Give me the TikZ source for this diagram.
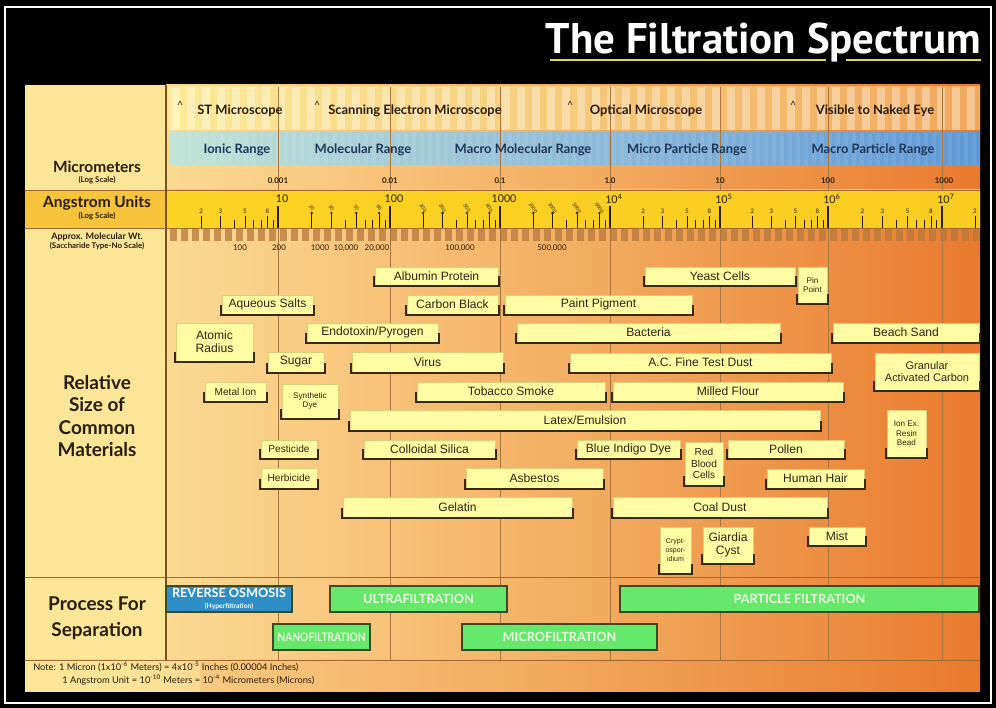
\documentclass[tikz,border=0pt]{standalone}
\usepackage{fontspec}
\setmainfont{Liberation Sans}
\newfontfamily\hdfont{Lato}
\newfontfamily\ttlfont{PT Sans}
\usepackage{xcolor}
\usepackage{tikz}
\usetikzlibrary{positioning}

\definecolor{spA}{HTML}{FBDA92}
\definecolor{spB}{HTML}{F3AE62}
\definecolor{spC}{HTML}{E97A2E}
\definecolor{lefty}{HTML}{FBE698}
\definecolor{msA}{HTML}{FCEB9A}
\definecolor{msC}{HTML}{F0A85C}
\definecolor{rgA}{HTML}{C2E3D6}
\definecolor{rgB}{HTML}{8EBBD8}
\definecolor{rgC}{HTML}{5E98D6}
\definecolor{rgink}{HTML}{1F3658}
\definecolor{angL}{HTML}{F5C43A}
\definecolor{angA}{HTML}{FBD324}
\definecolor{angB}{HTML}{F9CC22}
\definecolor{mwbar}{HTML}{B8793A}
\definecolor{boxfill}{HTML}{FFFDA4}
\definecolor{boxedge}{HTML}{E0CC7A}
\definecolor{brk}{HTML}{3C2810}
\definecolor{matink}{HTML}{2E2412}
\definecolor{gridc}{HTML}{A8753A}
\definecolor{rulec}{HTML}{A26A30}
\definecolor{divc}{HTML}{7A5220}
\definecolor{roblue}{HTML}{2E8FC8}
\definecolor{procgreen}{HTML}{66E86C}
\definecolor{procedge}{HTML}{3C4A28}
\definecolor{proctext}{HTML}{EAFBE0}
\definecolor{headink}{HTML}{2A1C0C}
\definecolor{uline}{HTML}{E0DC48}

\pgfdeclarehorizontalshading{spectrum}{100bp}{color(0bp)=(spA); color(25bp)=(spA); color(50bp)=(spB); color(75bp)=(spC); color(100bp)=(spC)}

\newcommand{\pxu}{0.025cm}
% material box with its size bracket
\newcommand{\matl}[7][]{%
  \node[matbox, #1, minimum width={(#4-#3)*\pxu}, minimum height={(#6-#5)*\pxu}] (#2) at ({(#3+#4)/2},{(#5+#6)/2}) {#7};
  \draw[bracket] ([shift={(-1,-8)}]#2.south west) -- ([shift={(-1,1)}]#2.south west) -- ([shift={(1,1)}]#2.south east) -- ([shift={(1,-8)}]#2.south east);
}
\newcommand{\proc}[7][]{%
  \node[procbox, #1, minimum width={(#4-#3)*\pxu}, minimum height={(#6-#5)*\pxu}] (#2) at ({(#3+#4)/2},{(#5+#6)/2}) {#7};
}

\begin{document}
\begin{tikzpicture}[x=0.025cm, y=-0.025cm,
    matbox/.style={fill=boxfill, draw=boxedge, line width=0.3pt, inner sep=0pt, align=center, text=matink, font=\fontsize{8.6}{9.4}\selectfont},
    smallmat/.style={font=\fontsize{5.8}{6.6}\selectfont},
    midmat/.style={font=\fontsize{7.2}{8}\selectfont},
    bracket/.style={draw=brk, line width=1.4pt, line cap=rect},
    procbox/.style={fill=procgreen, draw=procedge, line width=1.1pt, inner sep=0pt, align=center, text=proctext, font=\hdfont\bfseries\fontsize{9}{9.2}\selectfont},
    sidehead/.style={text=headink, align=center, inner sep=0pt, font=\hdfont\bfseries\fontsize{11}{12}\selectfont},
    sidesub/.style={text=headink, align=center, inner sep=0pt, font=\hdfont\bfseries\fontsize{5.6}{6.4}\selectfont},
    rowlab/.style={text=headink, inner sep=0pt, font=\hdfont\bfseries\fontsize{9.2}{10}\selectfont},
    umlab/.style={text=headink, inner sep=0pt, font=\hdfont\bfseries\fontsize{5.6}{6}\selectfont},
    anglab/.style={text=headink, inner sep=0pt, font=\hdfont\fontsize{7.6}{8}\selectfont},
    ticklab/.style={text=headink, inner sep=0pt, font=\hdfont\fontsize{4.4}{5}\selectfont},
    pinlab/.style={text=headink, inner sep=0pt, font=\hdfont\fontsize{3.4}{4}\selectfont},
    mwlab/.style={text=headink, inner sep=0pt, font=\hdfont\fontsize{5.6}{6}\selectfont},
    tick/.style={draw=headink, line width=0.5pt},
    majtick/.style={draw=headink, line width=1.1pt},
    gridln/.style={draw=gridc, line width=0.5pt},
    rule/.style={draw=rulec, line width=0.7pt}]
\useasboundingbox (0,0) rectangle (996,708);
\fill[black] (0,0) rectangle (996,708);
\draw[white, line width=1.2pt] (5,7) rectangle (991,703);

% Title
\node[anchor=base east, text=white, inner sep=0pt, font=\ttlfont\bfseries\fontsize{30.5}{32}\selectfont] (title) at (981,54) {The Filtration Spectrum};
\draw[uline, line width=1.6pt] (550,60) -- (826,60);
\draw[uline, line width=1.6pt] (846,60) -- (981,60);

% Panels
\fill[lefty] (25,85) rectangle (166,660);
\shade[shading=spectrum] (166,85) rectangle (980,660);
\shade[shading=spectrum] (25,660) rectangle (980,692);
\fill[lefty] (25,660) rectangle (120,692);
\shade[left color=lefty, right color=spA] (120,660) rectangle (200,692);

% Microscope row
\shade[left color=msA, right color=msC] (168,87) rectangle (980,130);
\foreach \x in {172,187,...,970} \fill[white, opacity=.35] (\x,87) rectangle ++(8,43);
\foreach \x in {180,317,570,793} \draw[headink, line width=0.4pt] (\x-2,105) -- (\x,101) -- (\x+2,105);

% Range band
\shade[left color=rgA, right color=rgC, middle color=rgB] (170,133) rectangle (980,165);
\foreach \x in {172,180,...,975} \fill[white, opacity=.08] (\x,133) rectangle ++(4,32);

% Angstrom row
\fill[angL] (25,190) rectangle (166,228);
\shade[left color=angA, right color=angB] (166,190) rectangle (980,228);

% Molecular weight bars
\foreach \x in {170,181,...,975} \fill[mwbar, opacity=.75] (\x,229) rectangle ++(7,12);

% Decade grid
\foreach \d in {278,390,500,610,720,828,942} {
  \draw[gridln] (\d,87) -- (\d,190);
  \draw[gridln] (\d,228) -- (\d,660);
}
\draw[rule] (25,190) -- (980,190);
\draw[rule] (25,228) -- (980,228);
\draw[rule] (25,577) -- (980,577);
\draw[rule] (25,660) -- (980,660);
\draw[divc, line width=1.6pt] (166,85) -- (166,660);

% Row headings
\node[sidehead] (micro) at (97,167) {Micrometers};
\node[sidesub] (microsub) at (97,180) {(Log Scale)};
\node[sidehead] (angs) at (97,203) {Angstrom Units};
\node[sidesub] (angsub) at (97,216) {(Log Scale)};
\node[sidesub, font=\hdfont\bfseries\fontsize{6.4}{7}\selectfont] (mw) at (97,237) {Approx. Molecular Wt.};
\node[sidesub] (mwsub) at (97,246) {(Saccharide Type-No Scale)};
\node[sidehead, font=\hdfont\bfseries\fontsize{13.5}{16}\selectfont] (relsize) at (97,416) {Relative\\Size of\\Common\\Materials};
\node[sidehead, font=\hdfont\bfseries\fontsize{13.5}{18.5}\selectfont] (process) at (97,618) {Process For\\Separation};

% Microscope and range labels
\node[rowlab] (stm) at (240,111) {ST Microscope};
\node[rowlab] (sem) at (415,111) {Scanning Electron Microscope};
\node[rowlab] (opt) at (646,111) {Optical Microscope};
\node[rowlab] (eye) at (875,111) {Visible to Naked Eye};
\node[rowlab, text=rgink] (ionic) at (237,150) {Ionic Range};
\node[rowlab, text=rgink] (molec) at (363,150) {Molecular Range};
\node[rowlab, text=rgink] (macmol) at (523,150) {Macro Molecular Range};
\node[rowlab, text=rgink] (micpart) at (687,150) {Micro Particle Range};
\node[rowlab, text=rgink] (macpart) at (873,150) {Macro Particle Range};

% Micrometer scale
\foreach \d/\l in {278/0.001, 390/0.01, 500/0.1, 610/1.0, 720/10, 828/100, 944/1000}
  \node[umlab] (um\d) at (\d,181) {\l};

% Angstrom scale
\foreach \d/\l in {278/10, 390/100, 500/1000, 610/10\textsuperscript{4}, 720/10\textsuperscript{5}, 828/10\textsuperscript{6}, 942/10\textsuperscript{7}} {
  \draw[majtick] (\d,206) -- (\d,228);
  \node[anglab] (ang\d) at (\d+4,199) {\l};
}
\foreach \a/\b in {168/278, 610/720, 720/828, 828/942} {
  \foreach \k in {2,3,5,8} {
    \pgfmathsetmacro\tx{\a+(\b-\a)*log10(\k)}
    \draw[tick] (\tx,216) -- (\tx,228);
    \node[ticklab] (tk\a\k) at (\tx,211) {\k};
  }
  \foreach \k in {4,6,7,9} {
    \pgfmathsetmacro\tx{\a+(\b-\a)*log10(\k)}
    \draw[tick] (\tx,220) -- (\tx,228);
  }
}
\foreach \a/\b/\sfx in {278/390/0, 390/500/00, 500/610/000} {
  \foreach \k in {2,3,5,8} {
    \pgfmathsetmacro\tx{\a+(\b-\a)*log10(\k)}
    \draw[tick] (\tx,214) -- (\tx,228);
    \fill[headink] (\tx,213) circle (1.3);
    \node[pinlab, rotate=-55] (tk\a\k) at (\tx,208) {\k\sfx};
  }
  \foreach \k in {4,6,7,9} {
    \pgfmathsetmacro\tx{\a+(\b-\a)*log10(\k)}
    \draw[tick] (\tx,220) -- (\tx,228);
  }
}
\draw[tick] (975,216) -- (975,228);
\node[ticklab] (tkend) at (975,211) {2};

% Molecular weight scale
\foreach \d/\l in {240/100, 279/200, 320/1000, 346/{10,000}, 377/{20,000}, 460/{100,000}, 552/{500,000}}
  \node[mwlab] (mw\d) at (\d,248) {\l};

% Common materials
\matl{albumin}{375}{498}{267}{285}{Albumin Protein}
\matl{yeast}{645}{795}{267}{285}{Yeast Cells}
\matl[smallmat]{pinpoint}{798}{827}{267}{303}{Pin\\Point}
\matl{aqsalts}{222}{313}{295}{314}{Aqueous Salts}
\matl{carbon}{407}{498}{295}{314}{Carbon Black}
\matl{paint}{505}{692}{295}{314}{Paint Pigment}
\matl{atomic}{176}{253}{323}{361}{Atomic\\Radius}
\matl{endotoxin}{307}{438}{323}{342}{Endotoxin/Pyrogen}
\matl{bacteria}{517}{780}{323}{342}{Bacteria}
\matl{beach}{833}{979}{323}{342}{Beach Sand}
\matl{sugar}{268}{324}{352}{372}{Sugar}
\matl{virus}{352}{503}{352}{372}{Virus}
\matl{acdust}{570}{831}{353}{372}{A.C. Fine Test Dust}
\matl[font=\fontsize{7.8}{8.6}\selectfont]{gac}{875}{979}{353}{390}{Granular\\Activated Carbon}
\matl[midmat]{metalion}{205}{266}{382}{401}{Metal Ion}
\matl[smallmat]{syndye}{282}{338}{384}{418}{Synthetic\\Dye}
\matl{tobacco}{417}{605}{382}{401}{Tobacco Smoke}
\matl{flour}{613}{843}{382}{401}{Milled Flour}
\matl{latex}{350}{820}{410}{430}{Latex/Emulsion}
\matl[smallmat]{ionex}{887}{926}{410}{457}{Ion Ex.\\Resin\\Bead}
\matl[midmat]{pesticide}{261}{317}{440}{458}{Pesticide}
\matl{silica}{364}{495}{440}{458}{Colloidal Silica}
\matl{indigo}{577}{680}{440}{458}{Blue Indigo Dye}
\matl[midmat]{rbc}{685}{723}{442}{485}{Red\\Blood\\Cells}
\matl{pollen}{728}{844}{440}{458}{Pollen}
\matl[midmat]{herbicide}{261}{317}{468}{488}{Herbicide}
\matl{asbestos}{466}{603}{468}{488}{Asbestos}
\matl{hair}{767}{864}{469}{488}{Human Hair}
\matl{gelatin}{343}{572}{497}{517}{Gelatin}
\matl{coal}{613}{827}{497}{517}{Coal Dust}
\matl[font=\fontsize{5}{6.2}\selectfont]{crypto}{660}{691}{527}{573}{Crypt-\\ospor-\\idium}
\matl{giardia}{703}{753}{527}{563}{Giardia\\Cyst}
\matl{mist}{809}{865}{527}{545}{Mist}

% Process for separation
\proc[fill=roblue, text=white]{ro}{166}{292}{586}{612}{REVERSE OSMOSIS\\[-1pt]{\fontsize{4.8}{5}\selectfont(Hyperfiltration)}}
\proc{uf}{330}{507}{586}{612}{ULTRAFILTRATION}
\proc{pf}{620}{979}{586}{612}{PARTICLE FILTRATION}
\proc[font=\hdfont\bfseries\fontsize{8.4}{8.6}\selectfont]{nf}{273}{370}{624}{650}{\scalebox{0.86}[1]{NANOFILTRATION}}
\proc{mf}{462}{657}{624}{650}{MICROFILTRATION}

% Note
\node[anchor=west, inner sep=0pt, text=headink, font=\hdfont\fontsize{6.6}{7}\selectfont] (note1) at (33,667) {Note: 1 Micron (1x10\textsuperscript{-6} Meters) = 4x10\textsuperscript{-5} Inches (0.00004 Inches)};
\node[anchor=west, inner sep=0pt, text=headink, font=\hdfont\fontsize{6.6}{7}\selectfont] (note2) at (62,680) {1 Angstrom Unit = 10\textsuperscript{-10} Meters = 10\textsuperscript{-4} Micrometers (Microns)};
\end{tikzpicture}
\end{document}
